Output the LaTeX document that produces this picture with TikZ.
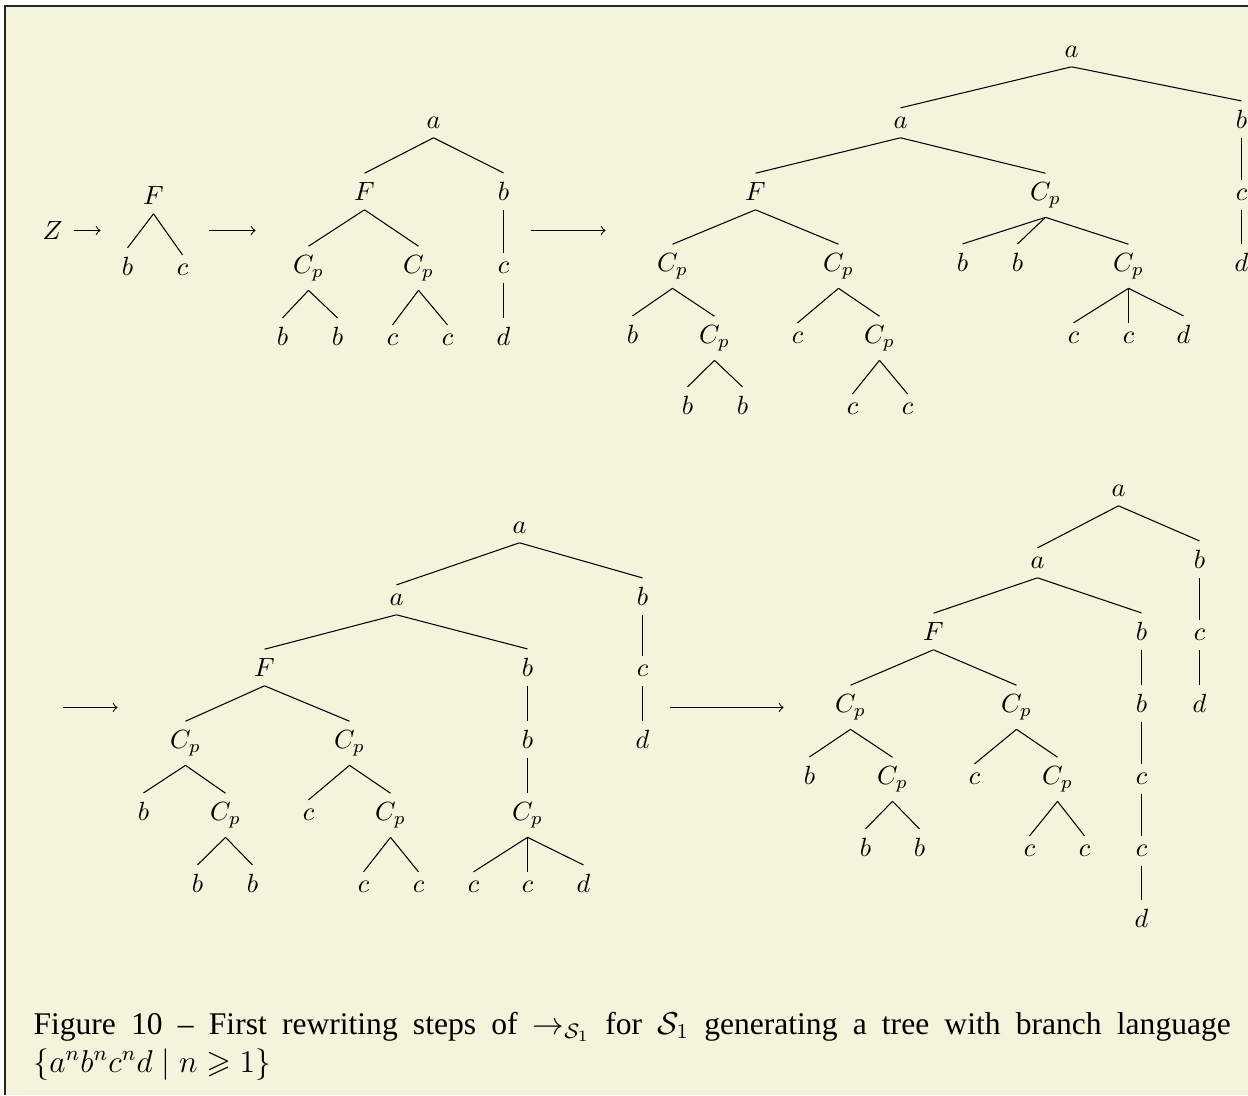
\documentclass[tikz,border=0pt]{standalone}
\usepackage{amssymb}
\usepackage[no-math]{fontspec}
\setmainfont{Liberation Serif}
\definecolor{paper}{RGB}{244,244,220}

\begin{document}
\begin{tikzpicture}[x=.38pt,y=-.38pt,
  lbl/.style={anchor=base}]
  \useasboundingbox (0,0) rectangle (1248,1095);
  \fill[paper] (5,6) rectangle (1248,1095);
  \draw[black!85, line width=.6pt] (5,1095) -- (5,6) -- (1248,6);

  \begin{scope}[xshift=.19pt, yshift=-.19pt]
  % Z -> F(b,c)
  \node[lbl] (t1Z) at (52,239) {$Z$};
  \foreach \n/\x/\y/\lab in {t1F/153/204/F, t1b/127/275/b, t1c/182/275/c}
    \node[lbl] (\n) at (\x,\y) {$\lab$};
  \foreach \pa/\ch in {t1F/t1b, t1F/t1c}
    \draw (\pa.south) -- (\ch.north);

  % second step
  \foreach \n/\x/\y/\lab in {t2a/433/128/a,
      t2F/364/200/F, t2b/503/200/b,
      t2C1/308/273/C_p, t2C2/418/273/C_p, t2c/503/273/c,
      t2l1/282/345/b, t2l2/337/345/b, t2l3/392/345/c, t2l4/447/345/c, t2d/503/345/d}
    \node[lbl] (\n) at (\x,\y) {$\lab$};
  \foreach \pa/\ch in {t2a/t2F, t2a/t2b, t2F/t2C1, t2F/t2C2, t2b/t2c,
      t2C1/t2l1, t2C1/t2l2, t2C2/t2l3, t2C2/t2l4, t2c/t2d}
    \draw (\pa.south) -- (\ch.north);

  % third step
  \foreach \n/\x/\y/\lab in {t3a/1071/57/a,
      t3a2/900/128/a, t3b/1241/128/b,
      t3F/755/200/F, t3C/1045/200/C_p, t3c/1241/200/c,
      t3C1/672/271/C_p, t3C2/838/271/C_p, t3b1/962/271/b, t3b2/1017/271/b, t3C3/1128/271/C_p, t3d/1241/271/d,
      t3b3/632/343/b, t3C4/714/343/C_p, t3c1/797/343/c, t3C5/879/343/C_p, t3c2/1073/343/c, t3c3/1128/343/c, t3d2/1183/343/d,
      t3b4/687/414/b, t3b5/742/414/b, t3c4/852/414/c, t3c5/907/414/c}
    \node[lbl] (\n) at (\x,\y) {$\lab$};
  \foreach \pa/\ch in {t3a/t3a2, t3a/t3b, t3a2/t3F, t3a2/t3C, t3b/t3c,
      t3F/t3C1, t3F/t3C2, t3C/t3b1, t3C/t3b2, t3C/t3C3, t3c/t3d,
      t3C1/t3b3, t3C1/t3C4, t3C2/t3c1, t3C2/t3C5, t3C3/t3c2, t3C3/t3c3, t3C3/t3d2,
      t3C4/t3b4, t3C4/t3b5, t3C5/t3c4, t3C5/t3c5}
    \draw (\pa.south) -- (\ch.north);

  % fourth step
  \foreach \n/\x/\y/\lab in {t4a/519/533/a,
      t4a2/396/605/a, t4b/642/605/b,
      t4F/264/676/F, t4b1/527/676/b, t4c/642/676/c,
      t4C1/185/748/C_p, t4C2/349/748/C_p, t4b2/527/748/b, t4d/642/748/d,
      t4b3/143/820/b, t4C3/225/820/C_p, t4c1/308/820/c, t4C4/390/820/C_p, t4C5/527/820/C_p,
      t4b4/197/892/b, t4b5/252/892/b, t4c2/363/892/c, t4c3/418/892/c, t4c4/473/892/c, t4c5/527/892/c, t4d2/583/892/d}
    \node[lbl] (\n) at (\x,\y) {$\lab$};
  \foreach \pa/\ch in {t4a/t4a2, t4a/t4b, t4a2/t4F, t4a2/t4b1, t4b/t4c,
      t4F/t4C1, t4F/t4C2, t4b1/t4b2, t4c/t4d,
      t4C1/t4b3, t4C1/t4C3, t4C2/t4c1, t4C2/t4C4, t4b2/t4C5,
      t4C3/t4b4, t4C3/t4b5, t4C4/t4c2, t4C4/t4c3, t4C5/t4c4, t4C5/t4c5, t4C5/t4d2}
    \draw (\pa.south) -- (\ch.north);

  % fifth step
  \foreach \n/\x/\y/\lab in {t5a/1118/496/a,
      t5a2/1037/568/a, t5b/1199/568/b,
      t5F/933/640/F, t5b1/1141/640/b, t5c/1199/640/c,
      t5C1/850/712/C_p, t5C2/1016/712/C_p, t5b2/1141/712/b, t5d/1199/712/d,
      t5b3/809/784/b, t5C3/892/784/C_p, t5c1/974/784/c, t5C4/1057/784/C_p, t5c2/1141/784/c,
      t5b4/865/856/b, t5b5/919/856/b, t5c3/1029/856/c, t5c4/1084/856/c, t5c5/1141/856/c,
      t5d2/1141/927/d}
    \node[lbl] (\n) at (\x,\y) {$\lab$};
  \foreach \pa/\ch in {t5a/t5a2, t5a/t5b, t5a2/t5F, t5a2/t5b1, t5b/t5c,
      t5F/t5C1, t5F/t5C2, t5b1/t5b2, t5c/t5d,
      t5C1/t5b3, t5C1/t5C3, t5C2/t5c1, t5C2/t5C4, t5b2/t5c2,
      t5C3/t5b4, t5C3/t5b5, t5C4/t5c3, t5C4/t5c4, t5c2/t5c5, t5c5/t5d2}
    \draw (\pa.south) -- (\ch.north);

  % rewriting arrows
  \coordinate (r1s) at (73,230);  \coordinate (r1e) at (100,230);
  \coordinate (r2s) at (208,230); \coordinate (r2e) at (255,230);
  \coordinate (r3s) at (530,230); \coordinate (r3e) at (605,230);
  \coordinate (r4s) at (62,707);  \coordinate (r4e) at (117,707);
  \coordinate (r5s) at (669,707); \coordinate (r5e) at (783,707);
  \foreach \r in {r1,r2,r3,r4,r5}
    \draw[->] (\r s) -- (\r e);
  \end{scope}

  \node[anchor=base west, text width=455pt, align=justify, inner sep=0pt,
        font=\fontsize{12}{14.5}\selectfont] (cap) at (33,1034)
    {Figure 10 -- First rewriting steps of $\rightarrow_{\mathcal{S}_1}$ for $\mathcal{S}_1$ generating a tree with branch language\linebreak $\{a^nb^nc^nd \mid n \geqslant 1\}$};
\end{tikzpicture}
\end{document}
